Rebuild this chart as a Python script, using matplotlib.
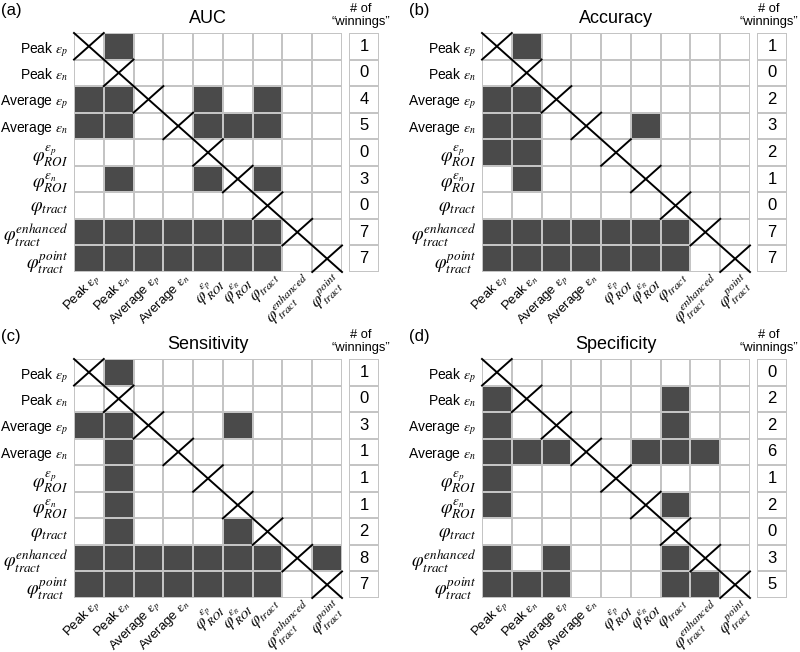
import numpy as np
import matplotlib.pyplot as plt
import matplotlib.transforms as mtransforms
from matplotlib.colors import ListedColormap

plt.rcParams['font.family'] = ['Liberation Sans', 'DejaVu Sans']
plt.rcParams['mathtext.fontset'] = 'stix'

row_labels = [r'Peak $\varepsilon_p$', r'Peak $\varepsilon_n$',
              r'Average $\varepsilon_p$', r'Average $\varepsilon_n$',
              r'$\varphi_{ROI}^{\varepsilon_p}$', r'$\varphi_{ROI}^{\varepsilon_n}$',
              r'$\varphi_{tract}$', r'$\varphi_{tract}^{enhanced}$', r'$\varphi_{tract}^{point}$']
col_labels = [r'Peak $\mathrm{\varepsilon}_p$', r'Peak $\mathrm{\varepsilon}_n$',
              r'Average $\mathrm{\varepsilon}_p$', r'Average $\mathrm{\varepsilon}_n$',
              r'$\varphi_{ROI}^{\varepsilon_p}$', r'$\varphi_{ROI}^{\varepsilon_n}$',
              r'$\varphi_{tract}$', r'$\varphi_{tract}^{enhanced}$', r'$\varphi_{tract}^{point}$']

# 1 = row method wins against column method
auc = np.array([
    [0, 1, 0, 0, 0, 0, 0, 0, 0],
    [0, 0, 0, 0, 0, 0, 0, 0, 0],
    [1, 1, 0, 0, 1, 0, 1, 0, 0],
    [1, 1, 0, 0, 1, 1, 1, 0, 0],
    [0, 0, 0, 0, 0, 0, 0, 0, 0],
    [0, 1, 0, 0, 1, 0, 1, 0, 0],
    [0, 0, 0, 0, 0, 0, 0, 0, 0],
    [1, 1, 1, 1, 1, 1, 1, 0, 0],
    [1, 1, 1, 1, 1, 1, 1, 0, 0]])
accuracy = np.array([
    [0, 1, 0, 0, 0, 0, 0, 0, 0],
    [0, 0, 0, 0, 0, 0, 0, 0, 0],
    [1, 1, 0, 0, 0, 0, 0, 0, 0],
    [1, 1, 0, 0, 0, 1, 0, 0, 0],
    [1, 1, 0, 0, 0, 0, 0, 0, 0],
    [0, 1, 0, 0, 0, 0, 0, 0, 0],
    [0, 0, 0, 0, 0, 0, 0, 0, 0],
    [1, 1, 1, 1, 1, 1, 1, 0, 0],
    [1, 1, 1, 1, 1, 1, 1, 0, 0]])
sensitivity = np.array([
    [0, 1, 0, 0, 0, 0, 0, 0, 0],
    [0, 0, 0, 0, 0, 0, 0, 0, 0],
    [1, 1, 0, 0, 0, 1, 0, 0, 0],
    [0, 1, 0, 0, 0, 0, 0, 0, 0],
    [0, 1, 0, 0, 0, 0, 0, 0, 0],
    [0, 1, 0, 0, 0, 0, 0, 0, 0],
    [0, 1, 0, 0, 0, 1, 0, 0, 0],
    [1, 1, 1, 1, 1, 1, 1, 0, 1],
    [1, 1, 1, 1, 1, 1, 1, 0, 0]])
specificity = np.array([
    [0, 0, 0, 0, 0, 0, 0, 0, 0],
    [1, 0, 0, 0, 0, 0, 1, 0, 0],
    [1, 0, 0, 0, 0, 0, 1, 0, 0],
    [1, 1, 1, 0, 0, 1, 1, 1, 0],
    [1, 0, 0, 0, 0, 0, 0, 0, 0],
    [1, 0, 0, 0, 0, 0, 1, 0, 0],
    [0, 0, 0, 0, 0, 0, 0, 0, 0],
    [1, 0, 1, 0, 0, 0, 1, 0, 0],
    [1, 1, 1, 0, 0, 0, 1, 1, 0]])

auc_wins = [1, 0, 4, 5, 0, 3, 0, 7, 7]
accuracy_wins = [1, 0, 2, 3, 2, 1, 0, 7, 7]
sensitivity_wins = [1, 0, 3, 1, 1, 1, 2, 8, 7]
specificity_wins = [0, 2, 2, 6, 1, 2, 0, 3, 5]

panels = [('(a)', 'AUC', auc, auc_wins),
          ('(b)', 'Accuracy', accuracy, accuracy_wins),
          ('(c)', 'Sensitivity', sensitivity, sensitivity_wins),
          ('(d)', 'Specificity', specificity, specificity_wins)]

W, H = 800, 652
fig = plt.figure(figsize=(8, 6.52), dpi=100)
cmap = ListedColormap(['white', '#4a4a4a'])
grid_col = '#c4c4c4'
# nudge rotated column labels up/right like the original
lab_shift = mtransforms.ScaledTranslation(3 / 72, 2 / 72, fig.dpi_scale_trans)

# pixel positions of each panel's grid: left, top
origins = [(74, 33), (482, 33), (74, 359), (482, 359)]
gw, gh = 268, 239
cw = 30

for (tag, title, mat, wins), (x0, y0) in zip(panels, origins):
    n = mat.shape[0]
    ax = fig.add_axes([x0 / W, 1 - (y0 + gh) / H, gw / W, gh / H])
    ax.pcolormesh(mat, cmap=cmap, vmin=0, vmax=1, edgecolors=grid_col, linewidth=1.2)
    ax.set_xlim(0, n)
    ax.set_ylim(n, 0)
    ax.plot([0, n], [0, n], color='black', lw=1.4, clip_on=False)
    for i in range(n):
        ax.plot([i, i + 1], [i + 1, i], color='black', lw=1.4, clip_on=False)
    for s in ax.spines.values():
        s.set_visible(False)
    ax.tick_params(axis='y', length=0, pad=4)
    ax.tick_params(axis='x', length=0, pad=1)
    ax.set_xticks(np.arange(n) + 0.5)
    ax.set_xticklabels(col_labels, rotation=45, ha='right', rotation_mode='anchor', fontsize=9.5)
    ax.set_yticks(np.arange(n) + 0.5)
    ax.set_yticklabels(row_labels, fontsize=10)
    for lab in ax.get_xticklabels():
        lab.set_transform(lab.get_transform() + lab_shift)
    for lab in ax.get_xticklabels()[4:]:
        lab.set_fontsize(12)
    for lab in ax.get_yticklabels()[4:]:
        lab.set_fontsize(13.5)
    ax.set_title(title, fontsize=13, pad=7)

    ax2 = fig.add_axes([(x0 + gw + 7) / W, 1 - (y0 + gh) / H, cw / W, gh / H])
    ax2.pcolormesh(np.zeros((n, 1)), cmap=cmap, vmin=0, vmax=1, edgecolors=grid_col, linewidth=1.2)
    ax2.set_xlim(0, 1)
    ax2.set_ylim(n, 0)
    for i, w in enumerate(wins):
        ax2.text(0.5, i + 0.5, str(w), ha='center', va='center', fontsize=12)
    ax2.set_xticks([])
    ax2.set_yticks([])
    for s in ax2.spines.values():
        s.set_visible(False)
    ax2.text(0.4, 1.02, '# of\n\u201cwinnings\u201d', transform=ax2.transAxes,
             ha='center', va='bottom', fontsize=9.3, linespacing=1.15)

    fig.text((x0 - 74) / W + 0.001, 1 - (y0 - 23) / H, tag, fontsize=12, va='center', ha='left')

plt.savefig('out.png', dpi=100)
